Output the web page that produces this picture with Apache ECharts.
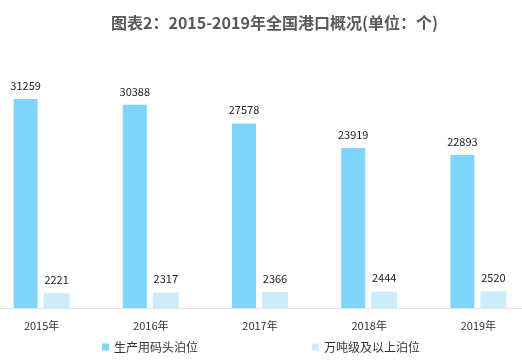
<!DOCTYPE html>
<html><head><meta charset="utf-8">
<script src="https://cdn.jsdelivr.net/npm/echarts@6/dist/echarts.min.js"></script>
<style>html,body{margin:0;padding:0;background:#fff}#c{width:522px;height:364px}</style>
</head><body><div id="c"></div>
<script>
const categories = ['2015年','2016年','2017年','2018年','2019年'];
const productionBerths = [31259, 30388, 27578, 23919, 22893];
const largeBerths = [2221, 2317, 2366, 2444, 2520];
const seriesNames = ['生产用码头泊位','万吨级及以上泊位'];
const font = '"Microsoft YaHei","Noto Sans CJK SC",sans-serif';
const chart = echarts.init(document.getElementById('c'));
chart.setOption({
  animation:false,
  backgroundColor:'#fff',
  title:{text:'图表2：2015-2019年全国港口概况(单位：个)',left:106,top:10,
    textStyle:{fontSize:16,fontWeight:'bold',color:'#595959',fontFamily:font}},
  legend:{bottom:6,left:'center',itemWidth:7,itemHeight:7,itemGap:114,icon:'rect',
    textStyle:{fontSize:12,color:'#333',fontFamily:font}},
  grid:{left:-13,width:546,top:74,bottom:56,outerBoundsMode:'none',containLabel:false},
  xAxis:{type:'category',data:categories,
    axisLine:{lineStyle:{color:'#e6e6e6'}},axisTick:{show:false},
    axisLabel:{fontSize:11,color:'#333',margin:12,fontFamily:font}},
  yAxis:{type:'value',min:0,max:35000,show:false,splitLine:{show:false}},
  series:[
    {name:seriesNames[0],type:'bar',data:productionBerths,barWidth:24,barGap:'25%',
     itemStyle:{color:'#7FD4F9'},
     label:{show:true,position:'top',distance:8,fontSize:11,color:'#222',fontFamily:font}},
    {name:seriesNames[1],type:'bar',data:largeBerths,barWidth:26,
     itemStyle:{color:'#CCEBFB'},
     label:{show:true,position:'top',distance:8,fontSize:11,color:'#222',fontFamily:font}}
  ]
});
</script></body></html>
